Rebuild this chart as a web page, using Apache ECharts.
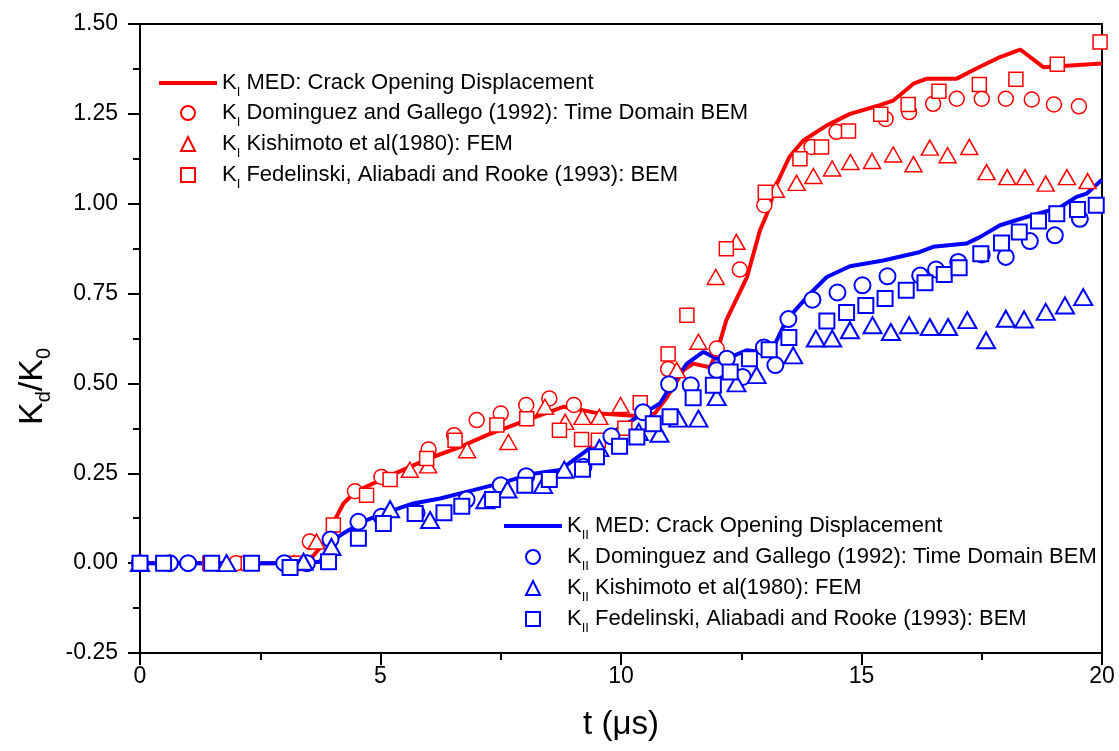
<!DOCTYPE html>
<html>
<head>
<meta charset="utf-8">
<title>Kd/K0</title>
<script src="https://cdn.jsdelivr.net/npm/echarts@6.0.0/dist/echarts.min.js"></script>
<style>
    html, body { margin: 0; padding: 0; background: #fff; }
    #chart { width: 1119px; height: 751px; }
</style>
</head>
<body>
<div id="chart"></div>
<script>
// K_I, Crack Opening Displacement
const kiMed = [[0, 0], [3.3, 0], [3.6, 0.02], [3.85, 0.06], [4.05, 0.12], [4.23, 0.166], [4.47, 0.198], [5.06, 0.235], [5.61, 0.268], [6.1, 0.296], [6.65, 0.323], [7.21, 0.356], [8.04, 0.398], [8.8, 0.435], [9.22, 0.425], [9.56, 0.416], [10.26, 0.41], [10.7, 0.416], [10.95, 0.46], [11.3, 0.537], [11.5, 0.555], [11.85, 0.545], [12.0, 0.59], [12.19, 0.676], [12.62, 0.796], [12.89, 0.926], [13.03, 0.97], [13.24, 1.056], [13.5, 1.13], [13.79, 1.176], [14.28, 1.218], [14.76, 1.25], [15.38, 1.274], [15.66, 1.287], [15.87, 1.31], [16.08, 1.334], [16.36, 1.348], [16.98, 1.348], [17.39, 1.376], [17.88, 1.408], [18.3, 1.429], [18.78, 1.38], [20, 1.39]];
const kiDominguez = [[0, 0], [1.0, 0], [2.0, 0], [3.0, 0], [3.53, 0.06], [4.47, 0.2], [5.02, 0.24], [6.0, 0.316], [6.53, 0.356], [7.0, 0.398], [7.5, 0.416], [8.03, 0.44], [8.51, 0.458], [9.02, 0.44], [10.98, 0.54], [11.99, 0.597], [12.47, 0.817], [12.98, 0.996], [13.96, 1.158], [14.48, 1.2], [15.5, 1.236], [15.99, 1.255], [16.49, 1.278], [16.98, 1.292], [17.5, 1.292], [18.0, 1.292], [18.54, 1.29], [19.0, 1.276], [19.52, 1.271]];
const kiKishimoto = [[0, 0], [1.8, 0], [3.2, 0], [3.67, 0.06], [5.61, 0.26], [5.99, 0.272], [6.8, 0.314], [7.66, 0.337], [8.42, 0.435], [8.84, 0.393], [9.2, 0.407], [9.55, 0.407], [9.99, 0.44], [11.16, 0.537], [11.61, 0.616], [11.97, 0.796], [12.4, 0.894], [13.22, 1.039], [13.65, 1.058], [14.0, 1.077], [14.39, 1.098], [14.77, 1.116], [15.22, 1.119], [15.66, 1.137], [16.08, 1.11], [16.42, 1.156], [16.79, 1.135], [17.24, 1.158], [17.6, 1.088], [18.03, 1.074], [18.4, 1.074], [18.83, 1.056], [19.27, 1.074], [19.7, 1.063]];
const kiFedelinski = [[0, 0], [1.45, 0], [2.25, 0], [3.2, 0], [4.02, 0.106], [4.71, 0.189], [5.2, 0.233], [5.96, 0.291], [6.55, 0.342], [7.42, 0.384], [8.04, 0.402], [8.72, 0.37], [9.18, 0.344], [9.53, 0.342], [10.08, 0.375], [10.4, 0.446], [10.98, 0.582], [11.37, 0.69], [12.19, 0.875], [13.0, 1.032], [13.72, 1.125], [14.17, 1.158], [14.73, 1.202], [15.4, 1.249], [15.97, 1.276], [16.61, 1.313], [17.45, 1.332], [18.21, 1.346], [19.07, 1.388], [19.96, 1.45]];

// K_II
const kiiMed = [[0, 0], [3.33, 0], [3.74, 0.004], [4.02, 0.064], [4.23, 0.083], [4.71, 0.12], [5.06, 0.138], [5.68, 0.166], [6.24, 0.18], [6.93, 0.203], [7.48, 0.222], [8.18, 0.249], [8.73, 0.259], [9.29, 0.314], [9.77, 0.36], [10.46, 0.416], [10.81, 0.444], [11.02, 0.49], [11.37, 0.555], [11.71, 0.588], [11.99, 0.569], [12.2, 0.569], [12.61, 0.592], [12.89, 0.588], [13.17, 0.601], [13.44, 0.676], [13.93, 0.75], [14.28, 0.796], [14.76, 0.826], [15.45, 0.842], [16.2, 0.865], [16.49, 0.88], [17.18, 0.889], [17.46, 0.907], [17.88, 0.94], [18.43, 0.963], [19.13, 0.99], [19.47, 1.019], [19.68, 1.028], [20, 1.067]];
const kiiDominguez = [[0, 0], [0.62, 0], [1.0, 0], [3.0, 0], [3.47, 0], [3.96, 0.066], [4.54, 0.115], [5.02, 0.129], [5.75, 0.14], [6.79, 0.177], [7.5, 0.217], [8.03, 0.242], [9.22, 0.268], [9.8, 0.353], [10.46, 0.42], [11.0, 0.498], [11.45, 0.495], [11.99, 0.537], [12.2, 0.569], [12.53, 0.518], [12.97, 0.6], [13.21, 0.551], [13.48, 0.679], [13.98, 0.733], [14.5, 0.753], [15.02, 0.773], [15.54, 0.798], [16.22, 0.8], [16.55, 0.817], [17.01, 0.838], [17.5, 0.859], [18.0, 0.852], [18.5, 0.896], [19.02, 0.912], [19.54, 0.958]];
const kiiKishimoto = [[0, 0], [1.8, 0], [3.4, 0.004], [3.98, 0.045], [5.2, 0.15], [6.03, 0.12], [7.18, 0.175], [7.64, 0.205], [8.38, 0.217], [8.82, 0.26], [9.55, 0.32], [10.37, 0.365], [10.8, 0.36], [11.19, 0.402], [11.61, 0.402], [11.99, 0.462], [12.4, 0.5], [12.82, 0.523], [13.58, 0.578], [14.05, 0.625], [14.39, 0.625], [14.76, 0.648], [15.23, 0.662], [15.61, 0.643], [15.99, 0.662], [16.42, 0.657], [16.8, 0.657], [17.2, 0.676], [17.59, 0.62], [18.0, 0.68], [18.38, 0.678], [18.83, 0.699], [19.23, 0.717], [19.61, 0.74]];
const kiiFedelinski = [[0, 0], [0.49, 0], [1.49, 0], [2.32, 0], [3.12, -0.012], [3.92, 0.004], [4.54, 0.069], [5.06, 0.11], [5.72, 0.138], [6.32, 0.14], [6.69, 0.158], [7.33, 0.177], [8.0, 0.217], [8.51, 0.233], [9.2, 0.261], [9.49, 0.296], [9.97, 0.325], [10.33, 0.351], [10.67, 0.388], [11.02, 0.407], [11.5, 0.46], [11.92, 0.495], [12.27, 0.532], [12.67, 0.569], [13.08, 0.594], [13.49, 0.628], [14.28, 0.674], [14.69, 0.697], [15.09, 0.717], [15.49, 0.736], [15.93, 0.759], [16.32, 0.78], [16.72, 0.803], [17.03, 0.822], [17.48, 0.861], [17.91, 0.891], [18.28, 0.921], [18.68, 0.952], [19.06, 0.972], [19.49, 0.984], [19.88, 0.996]];

// 图例文字
const sources = [' MED: Crack Opening Displacement', ' Dominguez and Gallego (1992): Time Domain BEM', ' Kishimoto et al(1980): FEM', ' Fedelinski, Aliabadi and Rooke (1993): BEM'];
const kiNames = sources.map(s => 'KI' + s);
const kiiNames = sources.map(s => 'KII' + s);

const font = 'Liberation Sans, Arial, sans-serif';
const red = '#ff0000';
const blue = '#0000ff';

const subRich = (size, subSize, pad) => ({
    k: { fontSize: size, lineHeight: size, verticalAlign: 'top', fontFamily: font, color: '#000' },
    s: { fontSize: subSize, lineHeight: subSize, verticalAlign: 'top', padding: [pad, 0, 0, 0], fontFamily: font, color: '#000' }
});

function legendLabel(name) {
    const sub = name.startsWith('KII') ? 'II' : 'I';
    return '{k|K}{s|' + sub + '}{k|' + name.slice(1 + sub.length) + '}';
}

function lineSeries(name, data, color) {
    return {
        name: name,
        type: 'line',
        data: data,
        symbol: 'none',
        lineStyle: { color: color, width: 4 },
        itemStyle: { color: color },
        z: 2
    };
}

function markSeries(name, data, color, symbol, size, bw) {
    return {
        name: name,
        type: 'scatter',
        data: data,
        symbol: symbol,
        symbolSize: size,
        itemStyle: { color: '#fff', borderColor: color, borderWidth: bw, opacity: 1 },
        z: 3
    };
}

const legendText = { fontSize: 22, fontFamily: font, color: '#000', rich: subRich(22, 13, 14) };

// 图例：线一个，空心符号另一个（符号宽度不拉伸）
function legendLine(name, left, top, color) {
    return {
        data: [{ name: name, itemStyle: { opacity: 0 }, lineStyle: { width: 4, color: color } }],
        left: left, top: top,
        itemWidth: 58, itemHeight: 14,
        padding: 0,
        selectedMode: false,
        formatter: legendLabel,
        textStyle: legendText
    };
}

function legendMarks(names, left, top, textPad) {
    const icons = ['circle', 'triangle', 'rect'];
    return {
        data: names.map((n, i) => ({ name: n, icon: icons[i] })),
        orient: 'vertical',
        left: left, top: top,
        itemWidth: 14, itemHeight: 14,
        itemGap: 4,
        padding: 0,
        selectedMode: false,
        formatter: legendLabel,
        textStyle: Object.assign({ padding: [0, 0, 0, textPad] }, legendText)
    };
}

const tickStyle = { color: '#000', width: 2 };

const myChart = echarts.init(document.getElementById('chart'));
myChart.setOption({
    animation: false,
    backgroundColor: '#fff',
    grid: {
        left: 140, right: 17, top: 24, bottom: 98,
        show: true, borderColor: '#000', borderWidth: 2
    },
    legend: [
        legendLine(kiNames[0], 157, 72, red),
        legendMarks(kiNames.slice(1), 180, 102, 22),
        legendLine(kiiNames[0], 502, 515, blue),
        legendMarks(kiiNames.slice(1), 525, 546, 22)
    ],
    xAxis: {
        type: 'value',
        min: 0, max: 20, interval: 5,
        name: 't (μs)',
        nameLocation: 'middle',
        nameGap: 55,
        nameTextStyle: { fontSize: 33, fontFamily: font, color: '#000' },
        axisLine: { onZero: false, lineStyle: tickStyle },
        axisTick: { length: 12, lineStyle: tickStyle },
        minorTick: { show: true, splitNumber: 2, length: 7, lineStyle: tickStyle },
        axisLabel: { fontSize: 23, fontFamily: font, color: '#000', margin: 12 },
        splitLine: { show: false }
    },
    yAxis: {
        type: 'value',
        min: -0.25, max: 1.5, interval: 0.25,
        name: '{k|K}{s|d}{k|/K}{s|0}',
        nameLocation: 'middle',
        nameGap: 88,
        nameTextStyle: {
            fontSize: 34, fontFamily: font, color: '#000',
            padding: [0, 96, 0, 0],
            rich: subRich(34, 20, 19)
        },
        axisLine: { onZero: false, lineStyle: tickStyle },
        axisTick: { length: 12, lineStyle: tickStyle },
        minorTick: { show: true, splitNumber: 2, length: 7, lineStyle: tickStyle },
        axisLabel: {
            fontSize: 23, fontFamily: font, color: '#000', margin: 22,
            formatter: v => v.toFixed(2)
        },
        splitLine: { show: false }
    },
    series: [
        lineSeries(kiNames[0], kiMed, red),
        markSeries(kiNames[1], kiDominguez, red, 'circle', 15, 1.5),
        markSeries(kiNames[2], kiKishimoto, red, 'triangle', [17, 15], 1.5),
        markSeries(kiNames[3], kiFedelinski, red, 'rect', 14, 1.5),
        lineSeries(kiiNames[0], kiiMed, blue),
        markSeries(kiiNames[1], kiiDominguez, blue, 'circle', 16, 2),
        markSeries(kiiNames[2], kiiKishimoto, blue, 'triangle', [18, 16], 2),
        markSeries(kiiNames[3], kiiFedelinski, blue, 'rect', 15, 2)
    ]
});
</script>
</body>
</html>
